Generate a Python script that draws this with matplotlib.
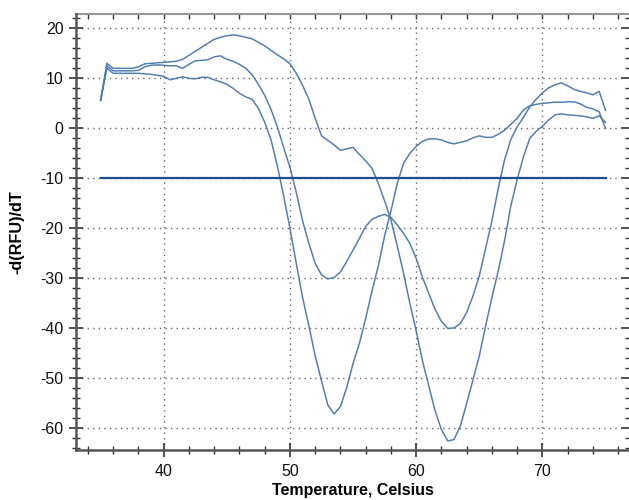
#!/usr/bin/env python3
"""Melt curve derivative: three -d(RFU)/dT traces with a -10 threshold line."""

import matplotlib

matplotlib.use("Agg")
import matplotlib.pyplot as plt
import numpy as np
from matplotlib.ticker import MultipleLocator, NullFormatter

TEMP = np.arange(35.0, 75.01, 0.5)

# trace with the high early peak and the deep late dip
CURVE_A = [
    5.6, 13.0, 12.0, 12.0, 12.0, 12.0, 12.3, 12.9, 13.0, 13.1,
    13.2, 13.3, 13.4, 13.8, 14.6, 15.4, 16.2, 17.0, 17.8, 18.2,
    18.5, 18.7, 18.5, 18.2, 17.9, 17.2, 16.5, 15.6, 14.7, 13.9,
    12.9, 11.0, 8.6, 5.8, 2.0, -1.5, -2.4, -3.3, -4.4, -4.1,
    -3.8, -5.2, -6.5, -8.0, -11.0, -14.5, -18.3, -23.5, -29.0, -35.0,
    -40.5, -46.5, -51.5, -56.5, -60.2, -62.5, -62.2, -59.5, -55.0, -50.3,
    -45.5, -39.5, -33.8, -28.5, -22.5, -15.5, -10.2, -5.7, -2.0, -0.6,
    0.4, 1.7, 2.7, 2.9, 2.7, 2.6, 2.5, 2.3, 2.0, 2.5,
    1.2,
]
# trace with the shallow early dip and the shallow late dip
CURVE_B = [
    5.6, 12.5, 11.5, 11.5, 11.5, 11.5, 11.6, 12.3, 12.6, 12.7,
    12.6, 12.5, 12.5, 12.0, 12.8, 13.5, 13.6, 13.7, 14.3, 14.5,
    13.8, 13.4, 12.8, 12.0, 10.7, 8.8, 6.6, 3.8, 0.3, -3.8,
    -7.8, -12.8, -18.5, -23.0, -27.0, -29.3, -30.1, -29.8, -28.7, -26.6,
    -24.3, -22.0, -19.6, -18.2, -17.6, -17.2, -17.8, -19.3, -21.0, -23.0,
    -26.0, -29.8, -33.0, -36.2, -38.6, -40.0, -39.9, -39.0, -36.8, -33.5,
    -29.5, -24.0, -18.5, -12.0, -6.3, -2.2, 0.3, 2.2, 4.3, 5.8,
    7.1, 8.1, 8.7, 9.1, 8.5, 7.8, 7.4, 7.1, 6.7, 7.4,
    3.6,
]
# trace with the deep early dip and the flat shoulder
CURVE_C = [
    5.6, 12.0, 11.0, 11.0, 11.0, 11.0, 11.0, 10.9, 10.8, 10.6,
    10.4, 9.7, 10.0, 10.3, 10.0, 9.9, 10.2, 10.2, 9.7, 9.3,
    8.8, 8.0, 7.0, 6.3, 5.8, 4.0, 1.2, -2.3, -7.5, -13.5,
    -20.0, -27.0, -33.8, -39.5, -45.5, -50.5, -55.3, -57.1, -55.6, -51.8,
    -47.0, -43.0, -38.0, -32.5, -27.5, -21.5, -16.5, -11.0, -7.0, -5.0,
    -3.6, -2.6, -2.1, -2.1, -2.3, -2.8, -3.1, -2.8, -2.5, -1.9,
    -1.5, -1.8, -1.8, -1.2, -0.4, 0.8, 2.0, 3.7, 4.5, 4.8,
    5.0, 5.1, 5.25, 5.2, 5.3, 5.3, 4.9, 4.2, 3.9, 3.3,
    0.0,
]
THRESHOLD = -10.0
THRESHOLD_SPAN = [35.0, 75.0]

CURVE_COLOR = "#4A78B0"
LINE_COLOR = "#1F4E8C"

plt.rcParams.update(
    {
        "font.family": ["Liberation Sans", "DejaVu Sans"],
        "font.size": 11.5,
        "axes.unicode_minus": False,
    }
)


def main():
    fig = plt.figure(figsize=(6.29, 5.0), dpi=100)
    ax = fig.add_axes([76 / 629, 0.1, (629 - 76) / 629, 436 / 500])

    for ys in (CURVE_A, CURVE_B, CURVE_C):
        ax.plot(TEMP, ys, color=CURVE_COLOR, lw=1.1, alpha=0.95, solid_joinstyle="round")
    ax.plot(THRESHOLD_SPAN, [THRESHOLD, THRESHOLD], color=LINE_COLOR, lw=1.6)

    ax.set_xlim(33.05, 76.86)
    ax.set_ylim(-64.3, 22.86)
    ax.xaxis.set_major_locator(MultipleLocator(10))
    ax.xaxis.set_minor_locator(MultipleLocator(2))
    ax.yaxis.set_major_locator(MultipleLocator(10))
    ax.yaxis.set_minor_locator(MultipleLocator(2))

    ax.grid(True, which="major", color="#666666", ls=(0, (1, 3)), lw=1.0)
    ax.set_axisbelow(True)

    ax.tick_params(axis="both", which="major", direction="inout", length=10, width=1.2,
                   color="#333333", labelsize=11.5, labelcolor="#111111")
    ax.tick_params(axis="both", which="minor", direction="inout", length=6, width=1.0,
                   color="#333333")
    ax.tick_params(axis="x", which="both", pad=5, top=False)
    ax.tick_params(axis="y", which="both", pad=4, right=False)

    # small inward ticks along the top and right edges
    top = ax.secondary_xaxis("top")
    top.xaxis.set_major_locator(MultipleLocator(2))
    top.xaxis.set_major_formatter(NullFormatter())
    top.tick_params(direction="in", length=3.5, width=1.0, color="#333333")
    top.spines["top"].set_color("#999999")
    top.spines["top"].set_linewidth(1.5)

    right = ax.secondary_yaxis("right")
    right.yaxis.set_major_locator(MultipleLocator(10))
    right.yaxis.set_minor_locator(MultipleLocator(2))
    right.yaxis.set_major_formatter(NullFormatter())
    right.tick_params(which="major", direction="in", length=6, width=1.2, color="#333333")
    right.tick_params(which="minor", direction="in", length=3, width=1.0, color="#333333")
    right.spines["right"].set_visible(False)

    for side in ("left", "bottom"):
        ax.spines[side].set_color("#555555")
        ax.spines[side].set_linewidth(1.8)
    ax.spines["top"].set_visible(False)
    ax.spines["right"].set_visible(False)

    ax.set_xlabel("Temperature, Celsius", fontsize=11.5, fontweight="bold")
    ax.set_ylabel("-d(RFU)/dT", fontsize=11.7, fontweight="bold")
    ax.xaxis.set_label_coords(0.5, -0.076)
    ax.yaxis.set_label_coords(-0.094, 0.5)

    fig.savefig("out.png", dpi=100)
    plt.close(fig)


if __name__ == "__main__":
    main()
